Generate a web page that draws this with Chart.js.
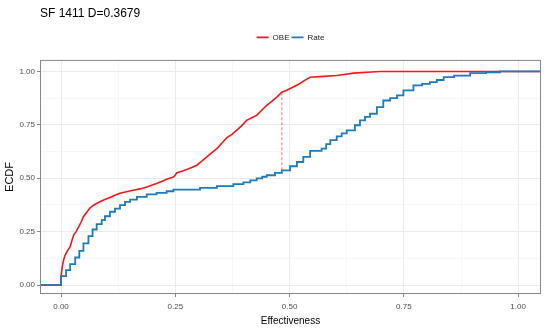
<!DOCTYPE html>
<html lang="en">
<head>
    <meta charset="UTF-8">
    <title>ECDF SF 1411</title>
    <style>
        body {
            margin: 0;
            background: #fff;
        }

        #wrap {
            width: 550px;
            height: 332px;
        }
    </style>
    <script src="https://cdn.jsdelivr.net/npm/chart.js"></script>
</head>
<body>
    <div id="wrap">
        <canvas id="ecdfChart" width="550" height="332"></canvas>
    </div>

    <script>
        // OBE ecdf, points
        const obeX = [-0.05, 0.0, 0.0, 0.003, 0.006, 0.009, 0.014, 0.02, 0.024, 0.028, 0.033, 0.038, 0.044, 0.049, 0.056, 0.063, 0.072, 0.085, 0.096, 0.107, 0.118, 0.129, 0.143, 0.158, 0.173, 0.1875, 0.198, 0.209, 0.22, 0.231, 0.246, 0.25, 0.253, 0.264, 0.275, 0.286, 0.297, 0.308, 0.319, 0.33, 0.341, 0.352, 0.363, 0.374, 0.384, 0.395, 0.406, 0.417, 0.428, 0.439, 0.45, 0.461, 0.472, 0.483, 0.495, 0.508, 0.52, 0.533, 0.545, 0.575, 0.603, 0.62, 0.64, 0.67, 0.698, 1.05];
        const obeY = [0, 0, 0.04, 0.09, 0.12, 0.14, 0.16, 0.18, 0.21, 0.235, 0.25, 0.27, 0.295, 0.32, 0.34, 0.36, 0.375, 0.39, 0.40, 0.41, 0.42, 0.43, 0.437, 0.444, 0.45, 0.459, 0.467, 0.475, 0.485, 0.495, 0.506, 0.515, 0.525, 0.533, 0.541, 0.55, 0.561, 0.58, 0.60, 0.62, 0.639, 0.665, 0.69, 0.705, 0.724, 0.745, 0.771, 0.783, 0.794, 0.818, 0.841, 0.86, 0.88, 0.903, 0.913, 0.927, 0.94, 0.958, 0.973, 0.977, 0.981, 0.986, 0.992, 0.996, 1.0, 1.0];

        // Rate ecdf
        const rateX = [-0.05, 0.0, 0.011, 0.02, 0.031, 0.04, 0.049, 0.06, 0.069, 0.078, 0.089, 0.096, 0.107, 0.118, 0.129, 0.14, 0.151, 0.166, 0.1875, 0.209, 0.231, 0.246, 0.304, 0.341, 0.377, 0.399, 0.414, 0.428, 0.44, 0.45, 0.468, 0.483, 0.501, 0.516, 0.53, 0.545, 0.57, 0.58, 0.589, 0.603, 0.614, 0.625, 0.643, 0.654, 0.665, 0.676, 0.691, 0.705, 0.72, 0.735, 0.749, 0.771, 0.79, 0.807, 0.822, 0.837, 0.86, 0.895, 0.93, 0.96, 1.05];
        const rateY = [0, 0.042, 0.07, 0.098, 0.129, 0.16, 0.195, 0.229, 0.26, 0.285, 0.304, 0.322, 0.343, 0.358, 0.374, 0.389, 0.40, 0.413, 0.424, 0.431, 0.439, 0.447, 0.455, 0.463, 0.472, 0.481, 0.49, 0.499, 0.507, 0.514, 0.525, 0.537, 0.556, 0.576, 0.60, 0.628, 0.639, 0.66, 0.678, 0.696, 0.71, 0.724, 0.748, 0.771, 0.787, 0.802, 0.833, 0.864, 0.875, 0.888, 0.911, 0.935, 0.942, 0.95, 0.96, 0.973, 0.98, 0.992, 0.996, 1.0, 1.0];

        // KS distance segment
        const dX = 0.483;
        const dLow = 0.537;
        const dHigh = 0.903;

        const majorTicks = [0, 0.25, 0.5, 0.75, 1];
        const tickLabels = ['0.00', '0.25', '0.50', '0.75', '1.00'];
        const minorTicks = [0.125, 0.375, 0.625, 0.875];

        const toPoints = (xs, ys) => xs.map((x, i) => ({ x: x, y: ys[i] }));
        const isMajor = v => majorTicks.some(m => Math.abs(m - v) < 1e-9);

        function setTicks(scale) {
            scale.ticks = majorTicks.concat(minorTicks)
                .sort((a, b) => a - b)
                .map(v => ({ value: v }));
        }

        const gridOpts = {
            color: c => isMajor(c.tick.value) ? '#ebebeb' : '#f4f4f4',
            lineWidth: c => isMajor(c.tick.value) ? 1 : 0.7,
            tickColor: c => isMajor(c.tick.value) ? '#888' : 'rgba(0,0,0,0)',
            tickLength: 3
        };

        const tickFont = { family: 'Liberation Sans', size: 8 };
        const tickLabel = v => {
            const i = majorTicks.findIndex(m => Math.abs(m - v) < 1e-9);
            return i >= 0 ? tickLabels[i] : '';
        };

        // panel border on all four sides
        const panelBorder = {
            id: 'panelBorder',
            afterDraw(chart) {
                const a = chart.chartArea;
                const c = chart.ctx;
                c.save();
                c.strokeStyle = '#888';
                c.lineWidth = 1;
                c.strokeRect(a.left + 0.5, a.top + 0.5, a.right - a.left - 1, a.bottom - a.top - 1);
                c.restore();
            }
        };

        // empty strip between legend and panel
        const legendGap = {
            id: 'legendGap',
            beforeInit(chart) {
                Chart.layouts.addBox(chart, {
                    position: 'top',
                    weight: 500,
                    fullSize: false,
                    options: {},
                    isHorizontal: () => true,
                    update(maxWidth) {
                        this.width = maxWidth;
                        this.height = 8.5;
                    },
                    draw() {}
                });
            }
        };

        const ctx = document.getElementById('ecdfChart').getContext('2d');
        new Chart(ctx, {
            type: 'scatter',
            data: {
                datasets: [{
                    label: 'OBE',
                    data: toPoints(obeX, obeY),
                    showLine: true,
                    borderColor: '#f7161a',
                    borderWidth: 1.6,
                    pointRadius: 0,
                    order: 3
                }, {
                    label: 'Rate',
                    data: toPoints(rateX, rateY),
                    showLine: true,
                    stepped: true,
                    borderColor: '#1a7dc0',
                    borderWidth: 1.8,
                    pointRadius: 0,
                    order: 2
                }, {
                    label: 'D',
                    data: [{ x: dX, y: dLow }, { x: dX, y: dHigh }],
                    showLine: true,
                    borderColor: 'rgba(245, 40, 40, 0.5)',
                    borderWidth: 1.3,
                    borderDash: [3, 2],
                    pointRadius: 0,
                    order: 1
                }]
            },
            options: {
                responsive: false,
                animation: false,
                layout: { padding: { left: 0, right: 9, top: 0, bottom: 0 } },
                plugins: {
                    title: {
                        display: true,
                        text: 'SF 1411 D=0.3679',
                        align: 'start',
                        fullSize: false,
                        color: '#000',
                        font: { family: 'Liberation Sans', size: 12, weight: 'normal' },
                        padding: { top: 6, bottom: 11 }
                    },
                    legend: {
                        position: 'top',
                        fullSize: false,
                        labels: {
                            usePointStyle: true,
                            pointStyle: 'line',
                            pointStyleWidth: 12,
                            boxWidth: 12,
                            boxHeight: 8,
                            padding: 2,
                            color: '#222',
                            font: { family: 'Liberation Sans', size: 8 },
                            filter: item => item.datasetIndex < 2,
                            sort: (a, b) => a.datasetIndex - b.datasetIndex
                        }
                    },
                    tooltip: { enabled: false }
                },
                scales: {
                    x: {
                        type: 'linear',
                        min: -0.046,
                        max: 1.05,
                        afterBuildTicks: setTicks,
                        afterFit: s => { s.height = 38; },
                        grid: gridOpts,
                        border: { display: false },
                        ticks: {
                            callback: tickLabel,
                            color: '#4d4d4d',
                            font: tickFont,
                            padding: 5,
                            maxRotation: 0,
                            autoSkip: false
                        },
                        title: {
                            display: true,
                            text: 'Effectiveness',
                            color: '#000',
                            font: { family: 'Liberation Sans', size: 10 },
                            padding: { top: 0, bottom: 5 }
                        }
                    },
                    y: {
                        type: 'linear',
                        min: -0.042,
                        max: 1.054,
                        afterBuildTicks: setTicks,
                        afterFit: s => { s.width = 40; },
                        grid: gridOpts,
                        border: { display: false },
                        ticks: {
                            callback: tickLabel,
                            color: '#4d4d4d',
                            font: tickFont,
                            padding: 2,
                            autoSkip: false
                        },
                        title: {
                            display: true,
                            text: 'ECDF',
                            color: '#000',
                            font: { family: 'Liberation Sans', size: 11 },
                            padding: { top: 3, bottom: 0 }
                        }
                    }
                }
            },
            plugins: [legendGap, panelBorder]
        });
    </script>
</body>
</html>
